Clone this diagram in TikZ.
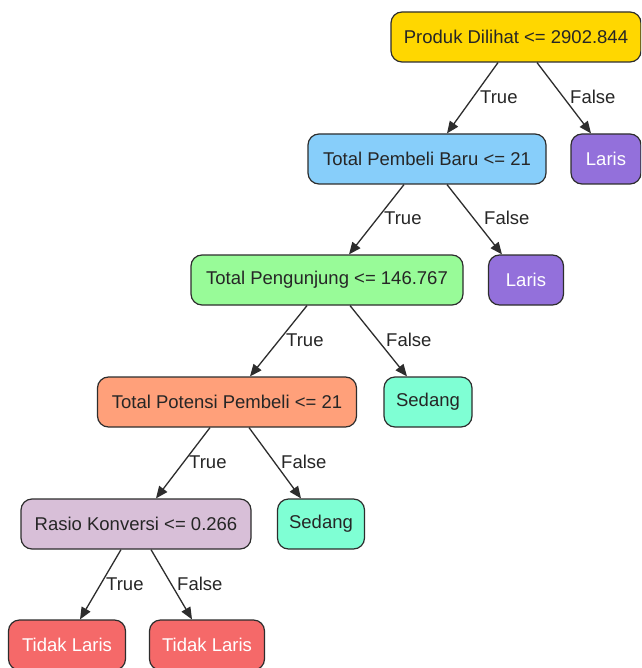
\documentclass[tikz,border=0pt]{standalone}
\usepackage{fontspec}
\setmainfont{Liberation Sans}
\usetikzlibrary{arrows.meta}
\definecolor{cgold}{RGB}{255,215,0}
\definecolor{cblue}{RGB}{135,206,250}
\definecolor{cgreen}{RGB}{152,251,152}
\definecolor{csalmon}{RGB}{255,160,122}
\definecolor{cthistle}{RGB}{216,191,216}
\definecolor{caqua}{RGB}{127,255,212}
\definecolor{cpurple}{RGB}{147,112,219}
\definecolor{cred}{RGB}{245,105,105}
\definecolor{cline}{RGB}{45,45,45}
\tikzset{
  box/.style={draw=cline, line width=1.2pt, rounded corners=11pt, minimum height=50pt,
    inner xsep=0pt, font=\fontsize{18.5}{22}\selectfont, text=black!85},
  leafw/.style={box, text=white},
  arr/.style={draw=cline, line width=1.3pt, -{Triangle[length=12pt,width=10pt]}},
  lab/.style={anchor=west, inner sep=0pt, font=\fontsize{18.5}{22}\selectfont, text=black!85},
}
\begin{document}
\begin{tikzpicture}[x=1pt,y=-1pt]
\clip (0,0) rectangle (641,668);
\fill[white] (0,0) rectangle (641,668);
\node[box, fill=cgold, minimum width=250pt] (n1) at (516,37) {Produk Dilihat <= 2902.844};
\node[box, fill=cblue, minimum width=238pt] (n2) at (427,159) {Total Pembeli Baru <= 21};
\node[leafw, fill=cpurple, minimum width=70pt] (l1) at (606,159) {Laris};
\node[box, fill=cgreen, minimum width=272pt] (n3) at (327,280) {Total Pengunjung <= 146.767};
\node[leafw, fill=cpurple, minimum width=75pt] (l2) at (526,280) {Laris};
\node[box, fill=csalmon, minimum width=259pt] (n4) at (227,402) {Total Potensi Pembeli <= 21};
\node[box, fill=caqua, minimum width=88pt] (s1) at (428,402) {Sedang};
\node[box, fill=cthistle, minimum width=230pt] (n5) at (136,524) {Rasio Konversi <= 0.266};
\node[box, fill=caqua, minimum width=87pt] (s2) at (321,524) {Sedang};
\node[leafw, fill=cred, minimum width=117pt] (t1) at (67,645) {Tidak Laris};
\node[leafw, fill=cred, minimum width=115pt] (t2) at (207,645) {Tidak Laris};

\draw[arr] ([xshift=-18pt]n1.south) -- ([xshift=20pt]n2.north);
\draw[arr] ([xshift=21pt]n1.south) -- ([xshift=-15pt]l1.north);
\draw[arr] ([xshift=-23pt]n2.south) -- ([xshift=22pt]n3.north);
\draw[arr] ([xshift=20pt]n2.south) -- ([xshift=-24pt]l2.north);
\draw[arr] ([xshift=-20pt]n3.south) -- ([xshift=23pt]n4.north);
\draw[arr] ([xshift=23pt]n3.south) -- ([xshift=-21pt]s1.north);
\draw[arr] ([xshift=-17pt]n4.south) -- ([xshift=20pt]n5.north);
\draw[arr] ([xshift=22pt]n4.south) -- ([xshift=-20pt]s2.north);
\draw[arr] ([xshift=-15pt]n5.south) -- ([xshift=13pt]t1.north);
\draw[arr] ([xshift=15pt]n5.south) -- ([xshift=-15pt]t2.north);

\node[lab] (a1) at (480,97) {True};
\node[lab] (b1) at (570,97) {False};
\node[lab] (a2) at (384,218) {True};
\node[lab] (b2) at (484,218) {False};
\node[lab] (a3) at (286,340) {True};
\node[lab] (b3) at (386,340) {False};
\node[lab] (a4) at (189,462) {True};
\node[lab] (b4) at (281,462) {False};
\node[lab] (a5) at (106,584) {True};
\node[lab] (b5) at (177,584) {False};
\end{tikzpicture}
\end{document}
